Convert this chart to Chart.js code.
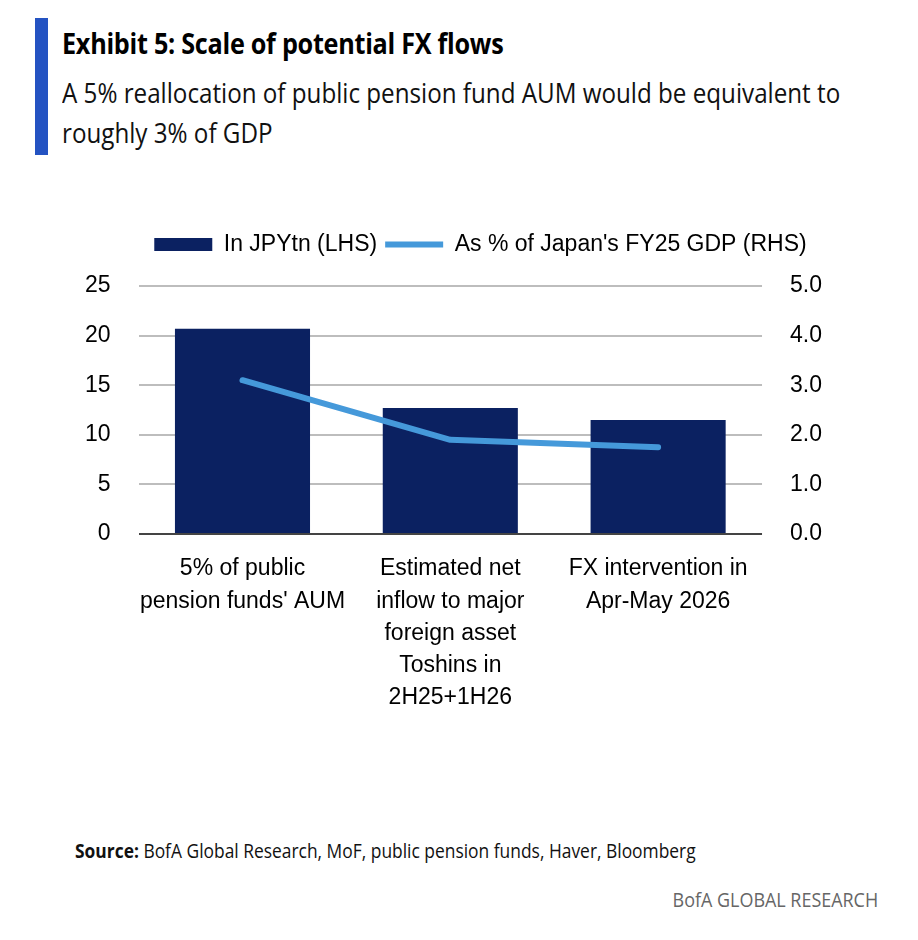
<!DOCTYPE html>
<html>
<head>
<meta charset="utf-8">
<script src="https://cdn.jsdelivr.net/npm/chart.js@4.4.1/dist/chart.umd.min.js"></script>
<style>
  html, body { margin: 0; padding: 0; background: #fff; }
  body { width: 918px; height: 940px; position: relative; overflow: hidden; font-family: "Open Sans", sans-serif; }
  .bar { position: absolute; left: 35px; top: 18px; width: 13px; height: 137px; background: #2453c2; }
  .title { position: absolute; left: 62px; top: 24px; font-size: 28px; font-weight: 700; color: #000; white-space: nowrap; transform: scaleX(0.9); transform-origin: left top; letter-spacing: -0.3px; }
  .sub { position: absolute; left: 62px; top: 72px; font-size: 28px; font-weight: 400; color: #111; white-space: nowrap; line-height: 40px; transform: scaleX(0.864); transform-origin: left top; }
  .src { position: absolute; left: 75px; top: 837px; font-size: 20px; color: #111; white-space: nowrap; transform: scaleX(0.87); transform-origin: left top; }
  .brand { position: absolute; right: 40px; top: 886px; font-size: 20px; color: #666; white-space: nowrap; transform: scaleX(0.897); transform-origin: right top; }
  #wrap { position: absolute; left: 0; top: 225px; width: 918px; height: 508px; }
</style>
</head>
<body>
<div class="bar"></div>
<div class="title">Exhibit 5: Scale of potential FX flows</div>
<div class="sub">A 5% reallocation of public pension fund AUM would be equivalent to<br>roughly 3% of GDP</div>
<div id="wrap"><canvas id="c"></canvas></div>
<div class="src"><b>Source:</b> BofA Global Research, MoF, public pension funds, Haver, Bloomberg</div>
<div class="brand">BofA GLOBAL RESEARCH</div>
<script>
const categories = [
  ["5% of public", "pension funds' AUM"],
  ["Estimated net", "inflow to major", "foreign asset", "Toshins in", "2H25+1H26"],
  ["FX intervention in", "Apr-May 2026"]
];
const jpyTn = [20.7, 12.7, 11.5];
const pctGdp = [3.1, 1.9, 1.75];
const leftTicks = [0, 5, 10, 15, 20, 25];
const rightTicks = [0, 1, 2, 3, 4, 5];
const seriesNames = ["In JPYtn (LHS)", "As % of Japan's FY25 GDP (RHS)"];

const FONT = "'Liberation Sans', Arial, sans-serif";

const legendGap = {
  id: 'legendGap',
  beforeInit(chart) {
    const origFit = chart.legend.fit;
    chart.legend.fit = function () { origFit.bind(chart.legend)(); this.height += 20; };
  },
  afterLayout(chart) {
    chart.legend.left += 27;
    chart.legend.right += 27;
  }
};

new Chart(document.getElementById('c'), {
  data: {
    labels: categories,
    datasets: [
      {
        type: 'line', label: seriesNames[1], data: pctGdp, yAxisID: 'y1',
        borderColor: '#4599da', backgroundColor: '#4599da', borderWidth: 6,
        pointRadius: 0, pointHoverRadius: 0, tension: 0, pointStyle: 'line',
        borderCapStyle: 'round', borderJoinStyle: 'round', order: 0
      },
      {
        type: 'bar', label: seriesNames[0], data: jpyTn, yAxisID: 'y',
        backgroundColor: '#0b2161', borderWidth: 0,
        categoryPercentage: 1.0, barPercentage: 0.65, pointStyle: 'rect', order: 1
      }
    ]
  },
  plugins: [legendGap],
  options: {
    responsive: true, maintainAspectRatio: false, animation: false,
    layout: { padding: { left: 57, right: 68, top: 0, bottom: 0 } },
    plugins: {
      tooltip: { enabled: false },
      legend: {
        position: 'top',
        reverse: true,
        labels: {
          usePointStyle: true, pointStyleWidth: 58, boxHeight: 13,
          color: '#000', font: { family: FONT, size: 23 }, padding: 8
        }
      }
    },
    scales: {
      x: {
        grid: { display: false, drawTicks: false },
        border: { display: false },
        ticks: { color: '#000', font: { family: FONT, size: 23, lineHeight: 1.4 }, maxRotation: 0, autoSkip: false, padding: 19 }
      },
      y: {
        position: 'left', min: 0, max: 25,
        afterBuildTicks: (a) => { a.ticks = leftTicks.map(v => ({ value: v })); },
        grid: {
          drawTicks: false, lineWidth: 2,
          color: (ctx) => ctx.tick && ctx.tick.value === 0 ? '#444' : '#bdbdbd'
        },
        border: { display: false },
        ticks: { color: '#000', font: { family: FONT, size: 23 }, padding: 28 }
      },
      y1: {
        position: 'right', min: 0, max: 5,
        afterBuildTicks: (a) => { a.ticks = rightTicks.map(v => ({ value: v })); },
        grid: { display: false, drawTicks: false },
        border: { display: false },
        ticks: { color: '#000', font: { family: FONT, size: 23 }, padding: 28, callback: (v) => Number(v).toFixed(1) }
      }
    }
  }
});
</script>
</body>
</html>
